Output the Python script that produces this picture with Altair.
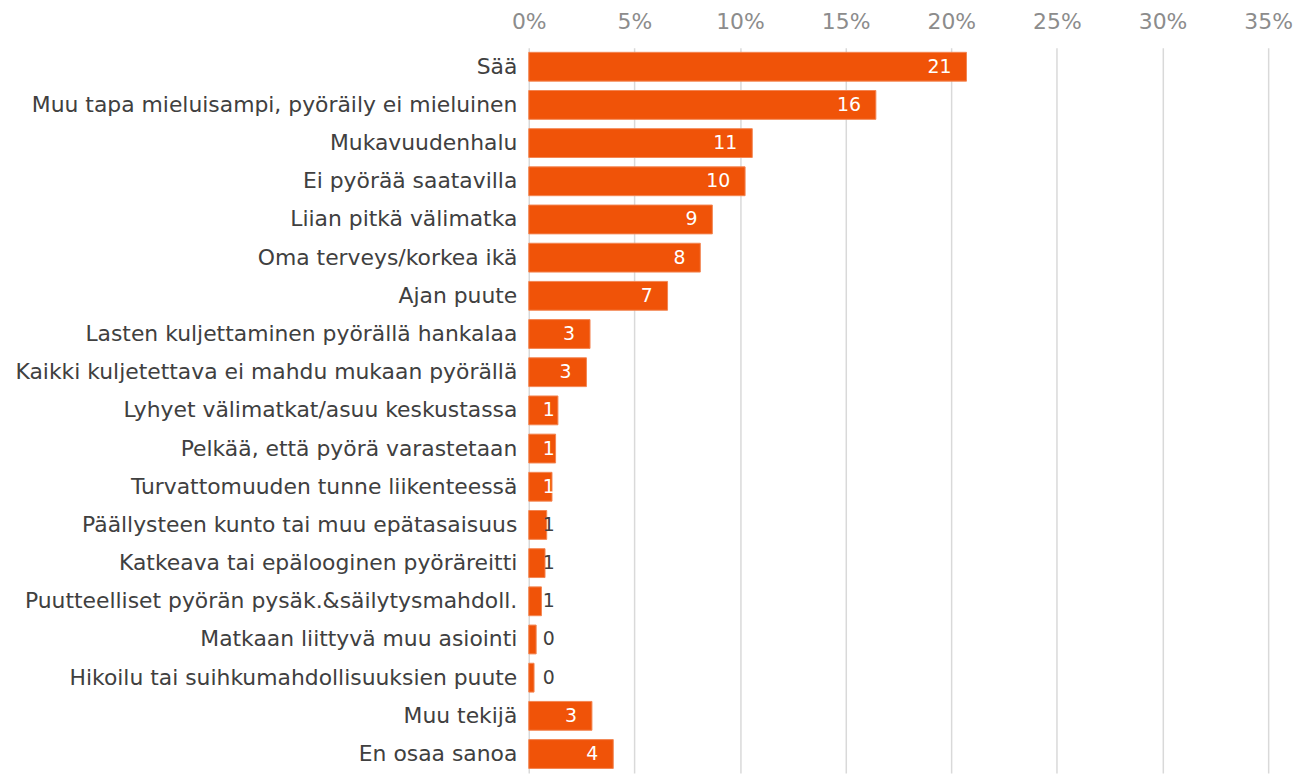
import altair as alt
import pandas as pd

categories = [
    "Sää",
    "Muu tapa mieluisampi, pyöräily ei mieluinen",
    "Mukavuudenhalu",
    "Ei pyörää saatavilla",
    "Liian pitkä välimatka",
    "Oma terveys/korkea ikä",
    "Ajan puute",
    "Lasten kuljettaminen pyörällä hankalaa",
    "Kaikki kuljetettava ei mahdu mukaan pyörällä",
    "Lyhyet välimatkat/asuu keskustassa",
    "Pelkää, että pyörä varastetaan",
    "Turvattomuuden tunne liikenteessä",
    "Päällysteen kunto tai muu epätasaisuus",
    "Katkeava tai epälooginen pyöräreitti",
    "Puutteelliset pyörän pysäk.&säilytysmahdoll.",
    "Matkaan liittyvä muu asiointi",
    "Hikoilu tai suihkumahdollisuuksien puute",
    "Muu tekijä",
    "En osaa sanoa",
]
values = [20.72, 16.43, 10.58, 10.24, 8.69, 8.12, 6.57, 2.90, 2.73,
          1.38, 1.27, 1.10, 0.85, 0.77, 0.60, 0.35, 0.25, 2.99, 4.00]
x_ticks = [0, 5, 10, 15, 20, 25, 30, 35]

df = pd.DataFrame({"cat": categories, "val": values})
df["label"] = df["val"].round(0).astype(int).astype(str)
df["zero"] = 0.0

FONT = "DejaVu Sans"
ORANGE = "#F05308"

y_enc = alt.Y("cat:N", sort=categories,
              scale=alt.Scale(paddingInner=0.245, paddingOuter=0.1225),
              axis=alt.Axis(title=None, domain=False, ticks=False,
                            labelFont=FONT, labelFontSize=22,
                            labelColor="#404040", labelPadding=12,
                            labelLimit=600, grid=False))
x_scale = alt.Scale(domain=[0, 35], nice=False)

base = alt.Chart(df)

bars = base.mark_bar(color=ORANGE, stroke="#F38552", strokeWidth=1).encode(
    x=alt.X("val:Q", scale=x_scale,
            axis=alt.Axis(orient="top", title=None, values=x_ticks,
                          labelExpr="datum.value + '%'",
                          labelFont=FONT, labelFontSize=22,
                          labelBaseline="alphabetic", labelFlush=False,
                          labelColor="#8C8C8C", labelPadding=19.5,
                          domain=False, ticks=False,
                          grid=True, gridColor="#D9D9D9", gridWidth=1.5)),
    y=y_enc,
)

big_labels = base.transform_filter("datum.val >= 2").mark_text(
    align="right", baseline="middle", dx=-15, font=FONT, fontSize=19,
    color="white").encode(
    x=alt.X("val:Q", scale=x_scale),
    y=alt.Y("cat:N", sort=categories),
    text="label:N",
)

small_labels = base.transform_filter("datum.val < 2").mark_text(
    align="left", baseline="middle", dx=14, font=FONT, fontSize=19).encode(
    x=alt.X("zero:Q", scale=x_scale),
    y=alt.Y("cat:N", sort=categories),
    text="label:N",
    color=alt.condition("datum.val >= 1", alt.value("white"), alt.value("#404040")),
)

chart = alt.layer(bars, big_labels, small_labels).properties(
    width=744, height=730,
    autosize=alt.AutoSizeParams(type="none"),
    padding={"left": 524, "top": 37.5, "right": 25, "bottom": 0},
).configure_view(stroke=None)

chart.save("out.html", embed_options={"renderer": "svg", "actions": False})
